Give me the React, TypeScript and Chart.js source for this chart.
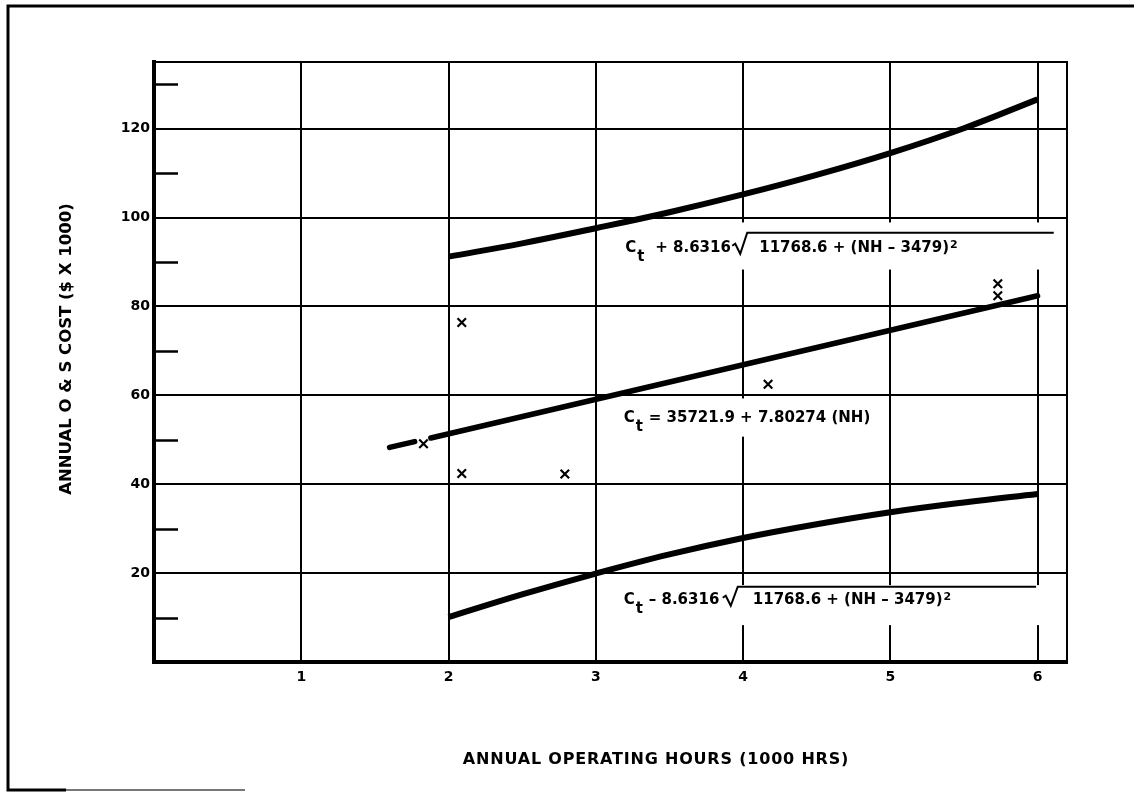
import React, { useEffect, useRef } from "react";
import { Chart, registerables } from "chart.js";

Chart.register(...registerables);

// ---- axis ticks ----
const xTickValues = [1, 2, 3, 4, 5, 6];
const yTickValues = [20, 40, 60, 80, 100, 120];
const yMinorTickValues = [10, 30, 50, 70, 90, 110, 130];

// ---- curves ----
const curveX = [2, 2.5, 3, 3.5, 4, 4.5, 5, 5.5, 6];
const upperBoundY = [91.2, 94.2, 97.6, 101.2, 105.2, 109.6, 114.5, 120.1, 126.6];
const lowerBoundY = [10.1, 15.2, 19.9, 24.2, 27.9, 31.0, 33.7, 35.9, 37.8];

// regression line (with a gap where a marker sits)
const meanX = [1.6, 1.77, 1.82, 1.88, 6.0];
const meanY: (number | null)[] = [48.3, 49.6, null, 50.4, 82.4];

// observed points (x marks)
const obsX = [1.83, 2.09, 2.09, 2.79, 4.17, 5.73, 5.73];
const obsY = [49.1, 76.4, 42.4, 42.3, 62.5, 85.1, 82.4];

// ---- texts ----
const xTitle = "ANNUAL OPERATING HOURS (1000 HRS)";
const yTitle = "ANNUAL O & S COST ($ X 1000)";
const upperOp = "+ 8.6316";
const lowerOp = "\u2013 8.6316";
const radicand = "11768.6 + (NH \u2013 3479)";
const meanOp = "= 35721.9 + 7.80274 (NH)";

// label boxes in data units (x0, x1 (null = right edge), yTop, yBottom)
const boxX0 = [3.04, 3.08, 3.04];
const boxX1: (number | null)[] = [null, 4.97, null];
const boxYTop = [98.9, 59.3, 17.3];
const boxYBot = [88.3, 50.7, 8.3];

// label anchors in data units
const labelX = [3.2, 3.19, 3.19];
const labelY = [92.3, 54.0, 13.1];
const barEndX = [6.11, 5.99];

const FONT = "'DejaVu Sans', 'Liberation Sans', sans-serif";

function drawCt(ctx: CanvasRenderingContext2D, x0: number, yb: number) {
  ctx.font = `bold 15px ${FONT}`;
  ctx.fillText("C", x0, yb);
  const wc = ctx.measureText("C").width;
  ctx.fillText("t", x0 + wc + 1, yb + 9);
}

function drawRadicalEq(
  ctx: CanvasRenderingContext2D,
  x0: number,
  yb: number,
  op: string,
  opOff: number,
  radOff: number,
  textOff: number,
  barEnd: number,
  barRise: number
) {
  drawCt(ctx, x0, yb);
  ctx.font = `bold 15px ${FONT}`;
  ctx.fillText(op, x0 + opOff, yb);
  const rx = x0 + radOff;
  ctx.lineWidth = 2;
  ctx.strokeStyle = "#000";
  ctx.beginPath();
  ctx.moveTo(rx, yb - 6);
  ctx.lineTo(rx + 3, yb - 8);
  ctx.lineTo(rx + 8, yb + 2);
  ctx.lineTo(rx + 15, yb - barRise);
  ctx.lineTo(barEnd, yb - barRise);
  ctx.stroke();
  ctx.fillText(radicand, rx + textOff, yb);
  const wr = ctx.measureText(radicand).width;
  ctx.font = `bold 11px ${FONT}`;
  ctx.fillText("2", rx + textOff + wr + 1, yb - 4);
}

const paperPlugin = {
  id: "paper",
  beforeDatasetsDraw(chart: any) {
    const { ctx, chartArea } = chart;
    const xs = chart.scales.x;
    const ys = chart.scales.y;
    ctx.save();
    ctx.fillStyle = "#fff";
    for (let i = 0; i < boxX0.length; i++) {
      const l = xs.getPixelForValue(boxX0[i]);
      const bx1 = boxX1[i];
      const r = bx1 == null ? chartArea.right - 2 : xs.getPixelForValue(bx1);
      const t = ys.getPixelForValue(boxYTop[i]);
      const b = ys.getPixelForValue(boxYBot[i]);
      ctx.fillRect(l, t, r - l, b - t);
    }
    ctx.restore();
  },
  afterDatasetsDraw(chart: any) {
    const { ctx, chartArea } = chart;
    const xs = chart.scales.x;
    const ys = chart.scales.y;
    ctx.save();
    ctx.strokeStyle = "#000";
    // top and right frame
    ctx.lineWidth = 2;
    ctx.beginPath();
    ctx.moveTo(chartArea.left, chartArea.top);
    ctx.lineTo(chartArea.right, chartArea.top);
    ctx.lineTo(chartArea.right, chartArea.bottom);
    ctx.stroke();
    // minor ticks on the y axis
    ctx.lineWidth = 2.5;
    for (const v of yMinorTickValues) {
      const py = Math.round(ys.getPixelForValue(v)) + 0.5;
      ctx.beginPath();
      ctx.moveTo(chartArea.left, py);
      ctx.lineTo(chartArea.left + 24, py);
      ctx.stroke();
    }
    // equation labels
    ctx.fillStyle = "#000";
    ctx.textBaseline = "alphabetic";
    ctx.textAlign = "left";
    const ux = xs.getPixelForValue(labelX[0]);
    const uy = ys.getPixelForValue(labelY[0]);
    drawRadicalEq(ctx, ux, uy, upperOp, 30, 107, 27, xs.getPixelForValue(barEndX[0]), 19);
    const mx = xs.getPixelForValue(labelX[1]);
    const my = ys.getPixelForValue(labelY[1]);
    drawCt(ctx, mx, my);
    ctx.font = `bold 15px ${FONT}`;
    ctx.fillText(meanOp, mx + 25, my);
    const lx = xs.getPixelForValue(labelX[2]);
    const ly = ys.getPixelForValue(labelY[2]);
    drawRadicalEq(ctx, lx, ly, lowerOp, 25, 99, 30, xs.getPixelForValue(barEndX[1]), 17);
    ctx.restore();
  },
  afterDraw(chart: any) {
    const { ctx } = chart;
    ctx.save();
    ctx.fillStyle = "#000";
    // x axis title
    ctx.font = `bold 16px ${FONT}`;
    (ctx as any).letterSpacing = "0.8px";
    ctx.textAlign = "center";
    ctx.textBaseline = "alphabetic";
    ctx.fillText(xTitle, 656, 764);
    (ctx as any).letterSpacing = "0px";
    // y axis title
    ctx.font = `bold 16.5px ${FONT}`;
    ctx.translate(71, 349);
    ctx.rotate(-Math.PI / 2);
    ctx.textAlign = "center";
    ctx.fillText(yTitle, 0, 0);
    ctx.setTransform(1, 0, 0, 1, 0, 0);
    // page border
    ctx.strokeStyle = "#000";
    ctx.lineWidth = 3;
    ctx.beginPath();
    ctx.moveTo(1134, 6);
    ctx.lineTo(8, 6);
    ctx.lineTo(8, 790);
    ctx.lineTo(66, 790);
    ctx.stroke();
    ctx.strokeStyle = "#777";
    ctx.lineWidth = 2;
    ctx.beginPath();
    ctx.moveTo(66, 790);
    ctx.lineTo(245, 790);
    ctx.stroke();
    ctx.restore();
  },
};

export default function App() {
  const ref = useRef<HTMLCanvasElement>(null);
  useEffect(() => {
    document.body.style.margin = "0";
    document.body.style.overflow = "hidden";
    const canvas = ref.current;
    if (!canvas) return;
    const toXY = (xs: number[], ys: (number | null)[]) => xs.map((x, i) => ({ x, y: ys[i] }));
    const chart = new Chart(canvas, {
      type: "scatter",
      data: {
        datasets: [
          {
            label: "Upper",
            data: toXY(curveX, upperBoundY) as any,
            showLine: true,
            borderColor: "#000",
            borderWidth: 6,
            pointRadius: 0,
            tension: 0.4,
            borderCapStyle: "butt",
          },
          {
            label: "Mean",
            data: toXY(meanX, meanY) as any,
            showLine: true,
            spanGaps: false,
            borderColor: "#000",
            borderWidth: 5.5,
            pointRadius: 0,
            borderCapStyle: "round",
          },
          {
            label: "Lower",
            data: toXY(curveX, lowerBoundY) as any,
            showLine: true,
            borderColor: "#000",
            borderWidth: 6,
            pointRadius: 0,
            tension: 0.4,
          },
          {
            label: "Observed",
            data: toXY(obsX, obsY) as any,
            showLine: false,
            pointStyle: "crossRot",
            pointRadius: 6,
            borderColor: "#000",
            borderWidth: 2.2,
          },
        ],
      },
      options: {
        responsive: false,
        animation: false,
        devicePixelRatio: 1,
        layout: { padding: { left: 0, right: 67, top: 62, bottom: 0 } },
        plugins: {
          legend: { display: false },
          tooltip: { enabled: false },
        },
        scales: {
          x: {
            type: "linear",
            min: 0,
            max: 6.2,
            afterBuildTicks: (scale: any) => {
              scale.ticks = xTickValues.map((v) => ({ value: v }));
            },
            afterFit: (scale: any) => {
              scale.height = 130;
            },
            grid: { color: "#000", lineWidth: 2, drawTicks: false },
            border: { display: true, color: "#000", width: 4 },
            ticks: {
              color: "#000",
              padding: 7,
              font: { family: FONT, size: 14, weight: "bold" },
              callback: (v: any) => String(v),
            },
          },
          y: {
            type: "linear",
            min: 0,
            max: 135,
            afterBuildTicks: (scale: any) => {
              scale.ticks = yTickValues.map((v) => ({ value: v }));
            },
            afterFit: (scale: any) => {
              scale.width = 154;
            },
            grid: { color: "#000", lineWidth: 2, drawTicks: false },
            border: { display: true, color: "#000", width: 4 },
            ticks: {
              color: "#000",
              padding: 4,
              font: { family: FONT, size: 14, weight: "bold" },
              callback: (v: any) => String(v),
            },
          },
        },
      } as any,
      plugins: [paperPlugin],
    });
    return () => chart.destroy();
  }, []);
  return (
    <div style={{ width: 1134, height: 792, background: "#fff" }}>
      <canvas ref={ref} width={1134} height={792} style={{ display: "block" }} />
    </div>
  );
}
